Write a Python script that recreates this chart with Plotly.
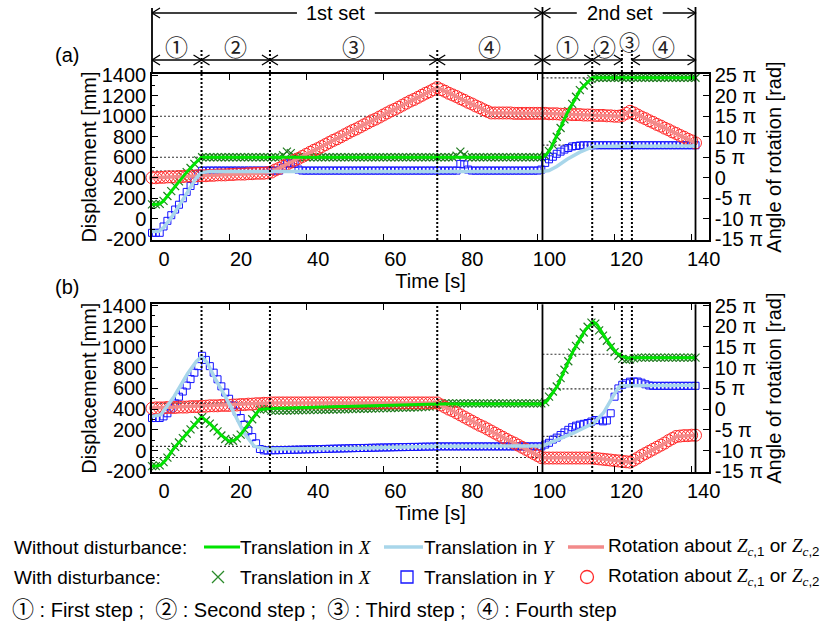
import plotly.graph_objects as go

# ===================== DATA =====================
# sampling instants [s] of the measured series "with disturbance"
t_s = list(range(0, 142))

# phase boundaries [s]
set_bounds = [0, 101.3, 141]
step_bounds = [12.85, 30.6, 74.0, 114.2, 121.9, 124.5]
step_spans = [(0, 12.85), (12.85, 30.6), (30.6, 74.0), (74.0, 101.3),
              (101.3, 114.2), (114.2, 121.9), (124.5, 141)]
step_label_pos = [(6.4, '①'), (21.7, '②'), (52.3, '③'), (87.6, '④'),
                  (107.7, '①'), (117.5, '②'), (132.7, '④')]
step_label_high = [(123.8, '③')]

# ---------- panel (a): without disturbance (breakpoints) ----------
a_gx_t = [0, 2, 3, 5, 7, 9, 11, 12.85, 101.3, 102.3, 103.5, 105.5, 107.7, 111.1, 114.2, 141]
a_gx_v = [140, 145, 175, 270, 365, 455, 535, 600, 600, 625, 690, 860, 1030, 1259, 1375, 1375]
a_by_t = [0, 1.8, 3, 5, 7.5, 10, 11.5, 12.85, 15, 101.3, 103, 105, 107.7, 111, 114.2, 116, 141]
a_by_v = [-125, -122, -85, 10, 155, 310, 400, 450, 462, 462, 470, 510, 580, 650, 700, 708, 710]
a_rz_t = [0, 30.6, 74.0, 87.8, 101.3, 114, 121.5, 124.1, 141]
a_rz_v = [0, 1.2, 22.0, 15.8, 15.7, 15.3, 15.0, 16.2, 8.5]          # [pi rad]

# ---------- panel (a): with disturbance (samples at t_s) ----------
a_gx_s = [140, 140, 145, 175, 222, 270, 318, 365, 410, 455, 495, 535, 570, 600,
          600, 600, 600, 600, 600, 600, 600, 600, 600, 600, 600, 600, 600, 600, 600, 600, 600, 600, 600, 600,
          620, 655, 640, 610,
          600, 600, 600, 600, 600, 600, 600, 600, 600, 600, 600, 600, 600, 600, 600, 600, 600, 600, 600, 600,
          600, 600, 600, 600, 600, 600, 600, 600, 600, 600, 600, 600, 600, 600, 600, 600, 600, 600, 600, 600, 600,
          615, 655, 625,
          600, 600, 600, 600, 600, 600, 600, 600, 600, 600, 600, 600, 600, 600, 600, 600, 600, 600, 600, 600,
          615, 660, 720, 800, 885, 970, 1050, 1120, 1190, 1255, 1300, 1335, 1365,
          1375, 1375, 1375, 1375, 1375, 1375, 1375, 1375, 1375, 1375, 1375, 1375, 1375, 1375, 1375, 1375, 1375,
          1375, 1375, 1375, 1375, 1375, 1375, 1375, 1375, 1375, 1375]
a_by_s = [-137, -137, -137,
          -75, -20, 35, 90, 137, 200, 262, 320, 368, 440, 468,
          470, 470, 470, 470, 470, 470, 470, 470, 470, 470, 470, 470, 470, 470, 470, 470, 470, 470, 470, 470,
          500, 540, 540, 535, 480,
          470, 470, 470, 470, 470, 470, 470, 470, 470, 470, 470, 470, 470, 470, 470, 470, 470, 470, 470, 470,
          470, 470, 470, 470, 470, 470, 470, 470, 470, 470, 470, 470, 470, 470, 470, 470, 470, 470, 470, 470,
          470, 535, 530, 480,
          470, 470, 470, 470, 470, 470, 470, 470, 470, 470, 470, 470, 470, 470, 470, 470, 470, 470,
          480, 545, 580, 605, 634, 655, 675, 690, 705, 710, 715,
          717, 717, 717, 717, 717, 717, 717, 717, 717, 717, 717, 717, 717, 717, 717,
          717, 717, 717, 717, 717, 717, 717, 717, 717, 717, 717, 717, 717, 717, 717]
a_rz_s = [0.0, 0.0, 0.1, 0.1, 0.2, 0.2, 0.2, 0.3, 0.3, 0.4, 0.4, 0.4, 0.5, 0.5, 0.5, 0.6,
          0.6, 0.7, 0.7, 0.7, 0.8, 0.8, 0.9, 0.9, 0.9, 1.0, 1.0, 1.1, 1.1, 1.1, 1.2,
          1.4, 1.9, 2.3, 2.8, 3.3, 3.8, 4.3, 4.7, 5.2, 5.7, 6.2, 6.7, 7.1, 7.6, 8.1, 8.6,
          9.1, 9.5, 10.0, 10.5, 11.0, 11.5, 11.9, 12.4, 12.9, 13.4, 13.9, 14.3, 14.8, 15.3,
          15.8, 16.3, 16.7, 17.2, 17.7, 18.2, 18.7, 19.1, 19.6, 20.1, 20.6, 21.0, 21.5, 22.0,
          21.5, 21.1, 20.6, 20.2, 19.8, 19.3, 18.9, 18.4, 18.0, 17.5, 17.1, 16.6, 16.2, 15.8,
          15.8, 15.8, 15.8, 15.8, 15.8, 15.7, 15.7, 15.7, 15.7, 15.7, 15.7, 15.7, 15.7,
          15.7, 15.6, 15.6, 15.6, 15.5, 15.5, 15.5, 15.4, 15.4, 15.4, 15.3, 15.3, 15.3,
          15.2, 15.2, 15.2, 15.1, 15.1, 15.0, 15.0,
          15.2, 15.7, 16.2,
          15.8, 15.3, 14.8, 14.4, 13.9, 13.5, 13.0, 12.6, 12.1, 11.7, 11.2, 10.8, 10.3, 9.9, 9.4, 9.0, 8.5]

# ---------- panel (b): without disturbance (breakpoints) ----------
b_gx_t = [0, 1, 2.3, 3.5, 5.75, 9.2, 11.5, 12.85, 15.3, 17.8, 20, 21.5, 23, 25.6, 27.8, 30.6, 74,
          101.3, 102.5, 105.1, 109.4, 112.5, 114.5, 115.5, 118, 120.6, 123.2, 125, 141]
b_gx_v = [-150, -150, -140, -95, 26, 170, 270, 325, 250, 154, 90, 100, 154, 282, 394, 405, 450,
          450, 480, 618, 971, 1170, 1243, 1215, 1067, 939, 891, 895, 897]
b_by_t = [0, 2.3, 5.75, 9.3, 11.5, 12.85, 14.3, 16.1, 20.4, 23.9, 26.5, 29.5, 50, 74, 101.3,
          109.4, 114.6, 117.1, 120.6, 121.5, 141]
b_by_v = [328, 346, 522, 747, 860, 907, 850, 714, 426, 170, 41, 15, 20, 42, 45,
          170, 266, 362, 587, 625, 630]
b_rz_t = [0, 30.6, 74, 101.3, 114.2, 121.5, 124.1, 136.2, 141]
b_rz_v = [0.25, 1.5, 1.5, -11.75, -11.75, -12.6, -12.8, -6.6, -6.3]   # [pi rad]

# ---------- panel (b): with disturbance (samples at t_s) ----------
b_gx_s = [-150, -150, -143, -112, -68, -15, 36, 78, 120, 162, 205, 248, 290, 322,
          290, 260, 220, 185, 145, 112, 90, 95, 118, 154, 205, 255, 302, 355, 395, 400, 402,
          385, 385, 386, 386, 387, 388, 388, 389, 390, 390, 391, 392, 392, 393, 394, 395, 396, 397, 398, 399,
          400, 401, 402, 403, 404, 405, 406, 407, 408, 409, 410, 411, 412, 413, 414, 415, 416, 417, 418, 420,
          422, 425, 430, 440,
          455, 455, 455, 455, 455, 455, 455, 455, 455, 455, 455, 455, 455, 455,
          455, 455, 455, 455, 455, 455, 455, 455, 455, 455, 455, 455, 455,
          468, 520, 570, 618, 700, 780, 862, 945, 1010, 1075, 1140, 1195, 1235, 1225, 1160, 1110,
          1060, 1000, 950, 915, 885, 875, 880, 890,
          897, 897, 897, 897, 897, 897, 897, 897, 897, 897, 897, 897, 897, 897, 897, 897]
b_by_s = [314, 314, 314, 330, 360, 405, 455, 520, 570, 628, 690, 752, 815, 915, 875, 815,
          752, 688, 620, 560, 500, 436, 376, 314, 250, 192, 130, 70, 15, 2, 0,
          3, 3, 4, 5, 6, 7, 8, 9, 10, 11, 12, 13, 14, 15, 16, 17, 18, 19, 20, 21,
          22, 23, 24, 25, 25, 26, 27, 28, 29, 30, 30, 31, 32, 33, 33, 34, 35, 35, 36, 37,
          38, 38, 39, 40,
          40, 40, 40, 40, 40, 40, 40, 40, 40, 40, 40, 40, 40, 40,
          40, 40, 40, 40, 40, 40, 40, 40, 40, 40, 40, 40, 40,
          58, 75, 106, 125, 150, 175, 200, 225, 240, 250, 258, 266, 280, 295,
          292, 282, 290, 360, 520, 600, 635, 650, 665, 666, 666, 655, 640, 628,
          625, 625, 625, 625, 625, 625, 625, 625, 625, 625, 625, 625]
b_rz_s = [0.2, 0.3, 0.3, 0.3, 0.4, 0.4, 0.4, 0.5, 0.5, 0.5, 0.6, 0.6, 0.6, 0.7, 0.7, 0.8,
          0.8, 0.8, 0.9, 0.9, 0.9, 1.0, 1.0, 1.1, 1.1, 1.2, 1.2, 1.3, 1.3, 1.4, 1.4,
          1.5, 1.5, 1.5, 1.5, 1.5, 1.5, 1.5, 1.5, 1.5, 1.5, 1.5, 1.5, 1.5, 1.5, 1.5, 1.5,
          1.5, 1.5, 1.5, 1.5, 1.5, 1.5, 1.5, 1.5, 1.5, 1.5, 1.5, 1.5, 1.5, 1.5, 1.5, 1.5,
          1.5, 1.5, 1.5, 1.5, 1.5, 1.5, 1.5, 1.5, 1.5, 1.5, 1.5, 1.5,
          1.0, 0.5, 0.0, -0.4, -0.9, -1.4, -1.9, -2.4, -2.9, -3.4, -3.9, -4.3, -4.8, -5.3,
          -5.8, -6.3, -6.8, -7.3, -7.8, -8.2, -8.7, -9.2, -9.7, -10.2, -10.7, -11.2, -11.7,
          -11.8, -11.8, -11.8, -11.8, -11.8, -11.8, -11.8, -11.8, -11.8, -11.8, -11.8, -11.8, -11.8,
          -11.9, -12.0, -12.1, -12.2, -12.3, -12.4, -12.5, -12.6, -12.7, -12.8,
          -12.3, -11.8, -11.2, -10.7, -10.2, -9.7, -9.2, -8.7, -8.2, -7.6, -7.1, -6.6,
          -6.5, -6.4, -6.4, -6.3, -6.3]

# target (reference) levels drawn as dotted lines [mm]: (value, t_from, t_to)
a_targets = [(1000, 0, 101.3), (600, 0, 101.3), (465, 0, 101.3), (1375, 101.3, 114.2), (718, 101.3, 114.2)]
b_targets = [(458, 0, 101.3), (41, 0, 101.3), (-67, 0, 101.3), (930, 101.3, 121.9),
             (596, 101.3, 121.9), (137, 101.3, 124.5)]

# axis ticks
x_ticks = [0, 20, 40, 60, 80, 100, 120, 140]
y_ticks = [-200, 0, 200, 400, 600, 800, 1000, 1200, 1400]
y_ticktext = ['-200', '0', '200', '400', '600', '800', '1000', '1200', '1400']
r_ticks = [-15, -10, -5, 0, 5, 10, 15, 20, 25]
r_ticktext = ['-15 π', '-10 π', '-5 π', '0', '5 π', '10 π', '15 π', '20 π', '25 π']

# ===================== LAYOUT HELPERS =====================
W, H = 838, 626
ML, MR, MT, MB = 152, 129, 74, 154
PW = W - ML - MR
PH = H - MT - MB


def xp(px):
    return (px - ML) / PW


def yp(py):
    return (H - MB - py) / PH


FONT = 'Liberation Sans, Arial, sans-serif'
CJK = 'Liberation Sans, Noto Sans CJK JP, sans-serif'
MATH = 'Liberation Serif, DejaVu Serif, serif'

GREEN = '#00e400'
DKGREEN = '#1e7a1e'
LBLUE = '#a8d6ea'
BLUE = '#1414ff'
CORAL = '#f28a8a'
RED = '#ff2a2a'

XR = [0, 144.5]
YR = [-207, 1412]
RR = [(YR[0] - 400) / 40, (YR[1] - 400) / 40]

A_DOM = [yp(240), 1.0]
B_DOM = [0.0, yp(304.3)]

fig = go.Figure()


def add_panel(xa, y_mm, y_rot, y_top, gx_t, gx_v, by_t, by_v, rz_t, rz_v, gx_s, by_s, rz_s):
    fig.add_trace(go.Scatter(x=t_s, y=gx_s, mode='markers', xaxis=xa, yaxis=y_mm, cliponaxis=False,
                             marker=dict(symbol='x-thin', size=8, color=DKGREEN,
                                         line=dict(width=1.2, color=DKGREEN))))
    fig.add_trace(go.Scatter(x=t_s, y=by_s, mode='markers', xaxis=xa, yaxis=y_mm, cliponaxis=False,
                             marker=dict(symbol='square-open', size=7, color=BLUE,
                                         line=dict(width=1, color=BLUE))))
    fig.add_trace(go.Scatter(x=t_s, y=rz_s, mode='markers', xaxis=xa, yaxis=y_rot, cliponaxis=False,
                             marker=dict(symbol='circle-open', size=12, color=RED,
                                         line=dict(width=1, color=RED))))
    fig.add_trace(go.Scatter(x=rz_t, y=rz_v, mode='lines', xaxis=xa, yaxis=y_rot,
                             line=dict(color=CORAL, width=3.5)))
    fig.add_trace(go.Scatter(x=by_t, y=by_v, mode='lines', xaxis=xa, yaxis=y_top,
                             line=dict(color=LBLUE, width=3.5)))
    fig.add_trace(go.Scatter(x=gx_t, y=gx_v, mode='lines', xaxis=xa, yaxis=y_top,
                             line=dict(color=GREEN, width=3)))


add_panel('x', 'y', 'y2', 'y5', a_gx_t, a_gx_v, a_by_t, a_by_v, a_rz_t, a_rz_v, a_gx_s, a_by_s, a_rz_s)
add_panel('x2', 'y3', 'y4', 'y6', b_gx_t, b_gx_v, b_by_t, b_by_v, b_rz_t, b_rz_v, b_gx_s, b_by_s, b_rz_s)

tickfont = dict(size=20, family=FONT, color='black')
titlefont = dict(size=20, family=FONT, color='black')


def xaxis_def(anchor):
    return dict(anchor=anchor, domain=[0, 1], range=XR, tickmode='array', tickvals=x_ticks,
                ticktext=[str(v) for v in x_ticks], ticks='inside', ticklen=6, tickwidth=1.3,
                tickcolor='black', showline=True, linecolor='black', linewidth=1.5, mirror='ticks',
                showgrid=False, zeroline=False, tickfont=tickfont, ticklabelshift=12,
                title=dict(text='Time [s]', font=titlefont, standoff=2))


def yleft_def(anchor, dom):
    return dict(anchor=anchor, domain=dom, range=YR, tickmode='array', tickvals=y_ticks,
                ticktext=y_ticktext, ticks='inside', ticklen=6, tickwidth=1.3, tickcolor='black',
                minor=dict(tickmode='linear', tick0=0, dtick=100, ticks='inside', ticklen=3,
                           tickwidth=1, tickcolor='black'),
                showline=True, linecolor='black', linewidth=1.5, showgrid=False, zeroline=False,
                tickfont=tickfont, title=dict(text='Displacement [mm]', font=titlefont, standoff=0))


def yright_def(over, anchor):
    return dict(overlaying=over, anchor=anchor, side='right', range=RR, tickmode='array',
                tickvals=r_ticks, ticktext=r_ticktext, ticks='inside', ticklen=6, tickwidth=1.3,
                tickcolor='black', showline=True, linecolor='black', linewidth=1.5, showgrid=False,
                zeroline=False, tickfont=tickfont,
                title=dict(text='Angle of rotation [rad]', font=titlefont, standoff=3))


def yhidden(over, anchor):
    return dict(overlaying=over, anchor=anchor, range=YR, visible=False)


shapes = []
annotations = []

DOT_V = dict(color='black', width=2, dash='2px,2px')
DOT_H = dict(color='#333333', width=1.2, dash='2px,2px')
SOLID = dict(color='black', width=1.8)
ARR = dict(color='black', width=1.3)


def hline(xref, t0, t1, ypx):
    shapes.append(dict(type='line', xref=xref, yref='paper', x0=t0, x1=t1, y0=yp(ypx), y1=yp(ypx), line=ARR))


def chevron(xref, t, ypx, direction):
    d = 8 if direction < 0 else -8
    shapes.append(dict(type='path', xref=xref, yref='paper', xsizemode='pixel', ysizemode='pixel',
                       xanchor=t, yanchor=yp(ypx), path=f'M{d},5 L0,0 L{d},-5', line=ARR))


def label(x, y, text, font, xref='x', yref='paper'):
    annotations.append(dict(x=x, y=y, xref=xref, yref=yref, text=text, showarrow=False,
                            xanchor='center', yanchor='middle', font=font))


# ---------- header: sets ----------
HDR_Y = 13
hline('x', 0, 37.6, HDR_Y)
hline('x', 57.8, 101.3, HDR_Y)
chevron('x', 0, HDR_Y, -1)
chevron('x', 101.3, HDR_Y, 1)
hline('x', 101.3, 110.2, HDR_Y)
hline('x', 132.5, 141, HDR_Y)
chevron('x', 101.3, HDR_Y, -1)
chevron('x', 141, HDR_Y, 1)
label(47.7, yp(HDR_Y), '1st set', dict(size=20, family=FONT, color='black'))
label(121.4, yp(HDR_Y), '2nd set', dict(size=20, family=FONT, color='black'))

# solid set separators
shapes.append(dict(type='line', xref='paper', yref='paper', x0=0, x1=0, y0=yp(8), y1=1, line=SOLID))
for tb in set_bounds[1:]:
    shapes.append(dict(type='line', xref='x', yref='paper', x0=tb, x1=tb, y0=yp(7), y1=A_DOM[0], line=SOLID))
    shapes.append(dict(type='line', xref='x2', yref='y3 domain', x0=tb, x1=tb, y0=0, y1=1, line=SOLID))

# ---------- header: steps ----------
STEP_Y = 60
CIRC = dict(size=23, family='Noto Sans CJK JP, sans-serif', color='#222222')
CIRC_S = dict(size=21, family='Noto Sans CJK JP, sans-serif', color='#222222')
for (t0, t1) in step_spans:
    hline('x', t0, t1, STEP_Y)
    chevron('x', t0, STEP_Y, -1)
    chevron('x', t1, STEP_Y, 1)
for (tc, lab) in step_label_pos:
    label(tc, yp(46), lab, CIRC)
for (tc, lab) in step_label_high:
    label(tc, yp(41), lab, CIRC_S)

# dotted step boundaries
for tb in step_bounds:
    shapes.append(dict(type='line', xref='x', yref='paper', x0=tb, x1=tb, y0=yp(50), y1=A_DOM[0], line=DOT_V))
    shapes.append(dict(type='line', xref='x2', yref='y3 domain', x0=tb, x1=tb, y0=0, y1=1, line=DOT_V))

# target levels
for (v, t0, t1) in a_targets:
    shapes.append(dict(type='line', xref='x', yref='y', x0=t0, x1=t1, y0=v, y1=v, line=DOT_H, layer='below'))
for (v, t0, t1) in b_targets:
    shapes.append(dict(type='line', xref='x2', yref='y3', x0=t0, x1=t1, y0=v, y1=v, line=DOT_H, layer='below'))

# panel tags
label(xp(67), yp(55), '(a)', dict(size=20, family=FONT, color='black'), xref='paper')
label(xp(67), yp(287), '(b)', dict(size=20, family=FONT, color='black'), xref='paper')

# ---------- custom legend ----------
LGF = dict(size=19, family=CJK, color='black')
LGF3 = dict(size=20, family=CJK, color='black')
R1, R2, R3 = 547, 577, 607


def mi(s):
    return f'<span style="font-family:{MATH}"><i>{s}</i></span>'


def cd(s):
    return f'<span style="font-family:Noto Sans CJK JP;font-size:22px">{s}</span>'


rot_txt = ('Rotation about ' + mi('Z') + '<sub>' + mi('c') + ',1</sub> or ' + mi('Z') + '<sub>' + mi('c') + ',2</sub>')


def lg_text(px, py, txt, font=LGF):
    annotations.append(dict(x=xp(px), y=yp(py), xref='paper', yref='paper', text=txt, showarrow=False,
                            xanchor='left', yanchor='middle', font=font))


lg_text(12, R1, 'Without disturbance:')
lg_text(238, R1, 'Translation in ' + mi('X'))
lg_text(422, R1, 'Translation in ' + mi('Y'))
lg_text(606, R1, rot_txt)
lg_text(12, R2, 'With disturbance:')
lg_text(238, R2, 'Translation in ' + mi('X'))
lg_text(422, R2, 'Translation in ' + mi('Y'))
lg_text(606, R2, rot_txt)
lg_text(10, R3, cd('①') + ' : First step ;  ' + cd('②') + ' : Second step ;  ' + cd('③') + ' : Third step ;  '
        + cd('④') + ' : Fourth step', LGF3)

for (p0, p1, c, w) in [(204, 240, GREEN, 3), (384, 423, LBLUE, 3.5), (568, 604, CORAL, 3.5)]:
    shapes.append(dict(type='line', xref='paper', yref='paper', x0=xp(p0), x1=xp(p1),
                       y0=yp(R1), y1=yp(R1), line=dict(color=c, width=w)))
shapes.append(dict(type='path', xref='paper', yref='paper', xsizemode='pixel', ysizemode='pixel',
                   xanchor=xp(218), yanchor=yp(R2), path='M-6,-6 L6,6 M-6,6 L6,-6',
                   line=dict(color='#2a8a2a', width=1.3)))
shapes.append(dict(type='path', xref='paper', yref='paper', xsizemode='pixel', ysizemode='pixel',
                   xanchor=xp(407), yanchor=yp(R2), path='M-6,-6 L6,-6 L6,6 L-6,6 Z',
                   line=dict(color=BLUE, width=1.3)))
shapes.append(dict(type='circle', xref='paper', yref='paper', xsizemode='pixel', ysizemode='pixel',
                   xanchor=xp(587), yanchor=yp(R2), x0=-6.5, x1=6.5, y0=-6.5, y1=6.5,
                   line=dict(color=RED, width=1.3)))

fig.update_layout(
    width=W, height=H, autosize=False,
    margin=dict(l=ML, r=MR, t=MT, b=MB, pad=0),
    paper_bgcolor='white', plot_bgcolor='white',
    showlegend=False,
    font=dict(family=FONT, color='black'),
    xaxis=xaxis_def('y'),
    yaxis=yleft_def('x', A_DOM),
    yaxis2=yright_def('y', 'x'),
    yaxis5=yhidden('y', 'x'),
    xaxis2=xaxis_def('y3'),
    yaxis3=yleft_def('x2', B_DOM),
    yaxis4=yright_def('y3', 'x2'),
    yaxis6=yhidden('y3', 'x2'),
    shapes=shapes,
    annotations=annotations,
)

fig.write_html('out.html')
